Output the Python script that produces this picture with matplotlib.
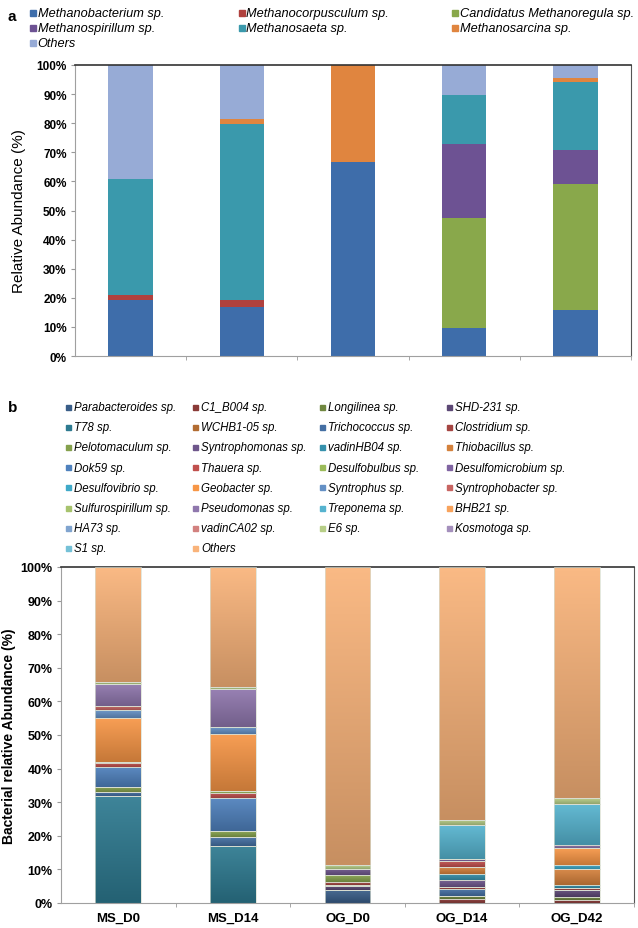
import numpy as np
import matplotlib
matplotlib.use('Agg')
import matplotlib.pyplot as plt
from matplotlib.patches import Rectangle
from matplotlib.colors import LinearSegmentedColormap, to_rgb

plt.rcParams['font.family'] = ['Liberation Sans', 'DejaVu Sans']

# DATA
samples = ['MS_D0', 'MS_D14', 'OG_D0', 'OG_D14', 'OG_D42']

# panel a - archaea (%)
arch_names = ['Methanobacterium sp.', 'Methanocorpusculum sp.', 'Candidatus Methanoregula sp.',
              'Methanospirillum sp.', 'Methanosaeta sp.', 'Methanosarcina sp.', 'Others']
methanobacterium = [19.2, 17.0, 66.8, 9.7, 15.8]
methanocorpusculum = [1.8, 2.2, 0, 0, 0]
methanoregula = [0, 0, 0, 37.7, 43.4]
methanospirillum = [0, 0, 0, 25.6, 11.7]
methanosaeta = [39.7, 60.6, 0, 16.7, 23.3]
methanosarcina = [0, 1.5, 33.2, 0, 1.4]
others_a = [39.3, 18.7, 0, 10.3, 4.4]
arch_colors = ['#3e6daa', '#b0413e', '#89a84b', '#6d5293', '#3a99ac', '#e0853f', '#97abd6']

# panel b - bacteria (%)
bac_names = ['Parabacteroides sp.', 'C1_B004 sp.', 'Longilinea sp.', 'SHD-231 sp.',
             'T78 sp.', 'WCHB1-05 sp.', 'Trichococcus sp.', 'Clostridium sp.',
             'Pelotomaculum sp.', 'Syntrophomonas sp.', 'vadinHB04 sp.', 'Thiobacillus sp.',
             'Dok59 sp.', 'Thauera sp.', 'Desulfobulbus sp.', 'Desulfomicrobium sp.',
             'Desulfovibrio sp.', 'Geobacter sp.', 'Syntrophus sp.', 'Syntrophobacter sp.',
             'Sulfurospirillum sp.', 'Pseudomonas sp.', 'Treponema sp.', 'BHB21 sp.',
             'HA73 sp.', 'vadinCA02 sp.', 'E6 sp.', 'Kosmotoga sp.',
             'S1 sp.', 'Others']
ms_d0 = [0, 0, 0, 0, 31.7, 0, 1.3, 0, 1.5, 0, 0, 0, 6.1, 1.2, 0.3,
         0, 0, 13.0, 2.2, 1.2, 0, 6.7, 0, 0, 0, 0, 0.6, 0, 0, 34.2]
ms_d14 = [0, 0, 0, 0, 17.1, 0, 2.5, 0, 1.7, 0, 0, 0, 9.9, 1.6, 0.5,
          0, 0, 17.1, 2.0, 0, 0, 11.4, 0, 0, 0, 0, 0.5, 0, 0, 35.7]
og_d0 = [3.8, 0, 0, 1.2, 0, 0.5, 0, 0.7, 2.0, 2.0, 0, 0, 0, 0, 0,
         0, 0, 0, 0, 0, 0, 0, 0, 0, 0, 0, 1.1, 0, 0, 88.7]
og_d14 = [0, 1.1, 1.0, 0, 0, 0, 2.0, 0.7, 0, 1.9, 2.0, 2.0, 0, 1.7, 0,
          0.6, 0, 0, 0, 0, 0, 0, 10.1, 0, 0, 0, 1.5, 0, 0, 75.4]
og_d42 = [0, 1.0, 0.9, 1.9, 0, 0, 0, 0.7, 0, 0, 1.0, 4.7, 0, 0, 0,
          0, 1.2, 5.0, 0, 0, 0, 1.0, 12.1, 0, 0, 0, 1.7, 0, 0, 68.8]

# excel-like palette: 6 accents x 5 shades
accents = ['#4f81bd', '#c0504d', '#9bbb59', '#8064a2', '#3fa9c8', '#f79646']
def shade(c, f):
    c = np.array(to_rgb(c))
    if f < 1:
        return tuple(c * f)
    return tuple(np.clip(c + (1 - c) * (f - 1), 0, 1))
bac_colors = []
for f in [0.72, 0.86, 1.0, 1.12, 1.28]:
    for a in accents:
        bac_colors.append(shade(a, f))

fig = plt.figure(figsize=(6.38, 9.29), dpi=100)
W, H = 638.0, 929.0

def px_axes(l, t, r, b):
    return fig.add_axes([l / W, 1 - b / H, (r - l) / W, (b - t) / H])

def style_axes(ax, fs):
    ax.set_xlim(-0.5, 4.5)
    ax.set_ylim(0, 100)
    ax.set_yticks(range(0, 101, 10))
    ax.set_yticklabels([f'{v}%' for v in range(0, 101, 10)], fontweight='bold', fontsize=fs)
    ax.tick_params(axis='y', direction='out', length=3, color='#999999', pad=3)
    ax.set_xticks([0.5, 1.5, 2.5, 3.5, 4.5], minor=True)
    ax.tick_params(axis='x', which='minor', direction='out', length=3, color='#999999')
    for s in ['left', 'bottom']:
        ax.spines[s].set_color('#a0a0a0')
    ax.spines['top'].set_color('#333333')
    ax.spines['top'].set_linewidth(1.2)
    ax.spines['right'].set_color('#555555')

# ---- panel a
ax1 = px_axes(75, 66, 631, 357)
x = np.arange(len(samples))
arch_series = [methanobacterium, methanocorpusculum, methanoregula, methanospirillum,
               methanosaeta, methanosarcina, others_a]
bottom = np.zeros(len(samples))
for vals, col in zip(arch_series, arch_colors):
    ax1.bar(x, vals, 0.4, bottom=bottom, color=col, zorder=2)
    bottom += np.array(vals)
style_axes(ax1, 8.5)
ax1.set_xticks(x)
ax1.set_xticklabels([])
ax1.tick_params(axis='x', which='major', length=0)
ax1.set_ylabel('Relative Abundance (%)', fontsize=11)
ax1.yaxis.set_label_coords(-0.088, 0.5)

fig.text(8 / W, 1 - 17 / H, 'a', fontweight='bold', fontsize=11, va='center')
for i, name in enumerate(arch_names):
    r, c = divmod(i, 3)
    xm = [30, 239, 452][c]
    ym = 14 + r * 15
    fig.patches.append(Rectangle((xm / W, 1 - (ym + 3) / H), 6 / W, 6 / H,
                                 transform=fig.transFigure, color=arch_colors[i]))
    fig.text((xm + 7.5) / W, 1 - ym / H, name, fontstyle='italic', fontsize=9.2, va='center')

# ---- panel b
ax2 = px_axes(61, 568, 634, 904)
bac_data = np.array([ms_d0, ms_d14, og_d0, og_d14, og_d42])
grad = np.linspace(0, 1, 64).reshape(-1, 1)
bottom = np.zeros(len(samples))
for j, col in enumerate(bac_colors):
    vals = bac_data[:, j]
    bars = ax2.bar(x, vals, 0.4, bottom=bottom, color=col, zorder=2)
    cm = LinearSegmentedColormap.from_list('g', [shade(col, 0.8), shade(col, 1.08)])
    for p in bars:
        if p.get_height() <= 0:
            continue
        x0, y0 = p.get_x(), p.get_y()
        ax2.imshow(grad, extent=(x0, x0 + p.get_width(), y0, y0 + p.get_height()),
                   origin='lower', cmap=cm, aspect='auto', zorder=2.5, interpolation='bilinear')
    ax2.bar(x, vals, 0.4, bottom=bottom, fill=False, edgecolor=(0.85, 0.87, 0.82),
            linewidth=0.5, zorder=3)
    bottom += vals
style_axes(ax2, 9)
ax2.set_xticks(x)
ax2.set_xticklabels(samples, fontweight='bold', fontsize=9.5)
ax2.tick_params(axis='x', which='major', length=0, pad=6)
ax2.set_ylabel('Bacterial relative Abundance (%)', fontweight='bold', fontsize=10)
ax2.yaxis.set_label_coords(-0.078, 0.5)

fig.text(8 / W, 1 - 408 / H, 'b', fontweight='bold', fontsize=11, va='center')
for i, name in enumerate(bac_names):
    r, c = divmod(i, 4)
    xm = [66, 193, 320, 447][c]
    ym = 408 + r * 20.2
    fig.patches.append(Rectangle((xm / W, 1 - (ym + 2.5) / H), 5 / W, 5 / H,
                                 transform=fig.transFigure, color=bac_colors[i]))
    fig.text((xm + 8) / W, 1 - ym / H, name, fontstyle='italic', fontsize=8.3, va='center')

fig.savefig('out.png', dpi=100)
